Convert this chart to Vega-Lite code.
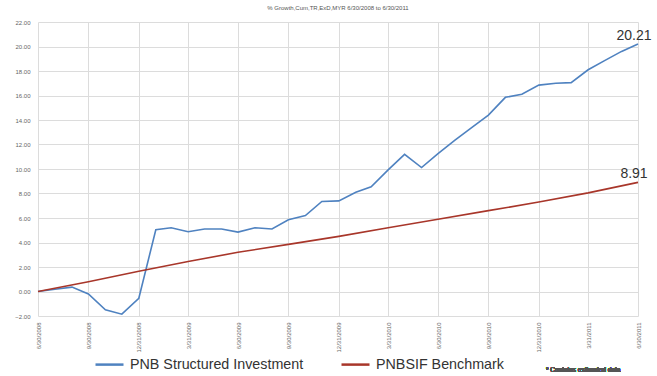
{
  "$schema": "https://vega.github.io/schema/vega-lite/v6.json",
  "autosize": {"type": "none"},
  "width": 600,
  "height": 294,
  "padding": {"left": 38, "top": 22, "right": 19, "bottom": 60},
  "background": "white",
  "title": {"text": "% Growth,Cum,TR,ExD,MYR 6/30/2008 to 6/30/2011", "fontSize": 6, "fontWeight": "normal", "color": "#555555", "font": "Liberation Sans", "offset": 8},
  "config": {
    "font": "Liberation Sans",
    "view": {"stroke": null},
    "axis": {"gridColor": "#dcdcdc", "gridWidth": 1, "ticks": false, "domain": false, "labelColor": "#666666", "labelFontSize": 6, "titleFontSize": 0}
  },
  "data": {"values": [
    {"date": "2008-06-30", "series": "PNB Structured Investment", "value": 0},
    {"date": "2008-07-31", "series": "PNB Structured Investment", "value": 0.18},
    {"date": "2008-08-31", "series": "PNB Structured Investment", "value": 0.36},
    {"date": "2008-09-30", "series": "PNB Structured Investment", "value": -0.2},
    {"date": "2008-10-31", "series": "PNB Structured Investment", "value": -1.5},
    {"date": "2008-11-30", "series": "PNB Structured Investment", "value": -1.85},
    {"date": "2008-12-31", "series": "PNB Structured Investment", "value": -0.55},
    {"date": "2009-01-31", "series": "PNB Structured Investment", "value": 5.04},
    {"date": "2009-02-28", "series": "PNB Structured Investment", "value": 5.2},
    {"date": "2009-03-31", "series": "PNB Structured Investment", "value": 4.88},
    {"date": "2009-04-30", "series": "PNB Structured Investment", "value": 5.1},
    {"date": "2009-05-31", "series": "PNB Structured Investment", "value": 5.1},
    {"date": "2009-06-30", "series": "PNB Structured Investment", "value": 4.85},
    {"date": "2009-07-31", "series": "PNB Structured Investment", "value": 5.2},
    {"date": "2009-08-31", "series": "PNB Structured Investment", "value": 5.1},
    {"date": "2009-09-30", "series": "PNB Structured Investment", "value": 5.85},
    {"date": "2009-10-31", "series": "PNB Structured Investment", "value": 6.2},
    {"date": "2009-11-30", "series": "PNB Structured Investment", "value": 7.35},
    {"date": "2009-12-31", "series": "PNB Structured Investment", "value": 7.4},
    {"date": "2010-01-31", "series": "PNB Structured Investment", "value": 8.1},
    {"date": "2010-02-28", "series": "PNB Structured Investment", "value": 8.55},
    {"date": "2010-03-31", "series": "PNB Structured Investment", "value": 9.93},
    {"date": "2010-04-30", "series": "PNB Structured Investment", "value": 11.2},
    {"date": "2010-05-31", "series": "PNB Structured Investment", "value": 10.12},
    {"date": "2010-06-30", "series": "PNB Structured Investment", "value": 11.25},
    {"date": "2010-07-31", "series": "PNB Structured Investment", "value": 12.35},
    {"date": "2010-08-31", "series": "PNB Structured Investment", "value": 13.4},
    {"date": "2010-09-30", "series": "PNB Structured Investment", "value": 14.4},
    {"date": "2010-10-31", "series": "PNB Structured Investment", "value": 15.85},
    {"date": "2010-11-30", "series": "PNB Structured Investment", "value": 16.1},
    {"date": "2010-12-31", "series": "PNB Structured Investment", "value": 16.85},
    {"date": "2011-01-31", "series": "PNB Structured Investment", "value": 17.0},
    {"date": "2011-02-28", "series": "PNB Structured Investment", "value": 17.05},
    {"date": "2011-03-31", "series": "PNB Structured Investment", "value": 18.1},
    {"date": "2011-04-30", "series": "PNB Structured Investment", "value": 18.85},
    {"date": "2011-05-31", "series": "PNB Structured Investment", "value": 19.6},
    {"date": "2011-06-30", "series": "PNB Structured Investment", "value": 20.21, "label": "20.21"},
    {"date": "2008-06-30", "series": "PNBSIF Benchmark", "value": 0},
    {"date": "2008-09-30", "series": "PNBSIF Benchmark", "value": 0.8},
    {"date": "2008-12-31", "series": "PNBSIF Benchmark", "value": 1.65},
    {"date": "2009-03-31", "series": "PNBSIF Benchmark", "value": 2.45},
    {"date": "2009-06-30", "series": "PNBSIF Benchmark", "value": 3.2},
    {"date": "2009-09-30", "series": "PNBSIF Benchmark", "value": 3.85},
    {"date": "2009-12-31", "series": "PNBSIF Benchmark", "value": 4.5},
    {"date": "2010-03-31", "series": "PNBSIF Benchmark", "value": 5.2},
    {"date": "2010-06-30", "series": "PNBSIF Benchmark", "value": 5.9},
    {"date": "2010-09-30", "series": "PNBSIF Benchmark", "value": 6.6},
    {"date": "2010-12-31", "series": "PNBSIF Benchmark", "value": 7.3},
    {"date": "2011-03-31", "series": "PNBSIF Benchmark", "value": 8.05},
    {"date": "2011-06-30", "series": "PNBSIF Benchmark", "value": 8.91, "label": "8.91"}
  ]},
  "encoding": {
    "x": {
      "field": "date", "type": "temporal",
      "scale": {"type": "utc", "domain": [{"year": 2008, "month": 6, "date": 30, "utc": true}, {"year": 2011, "month": 6, "date": 30, "utc": true}], "nice": false},
      "axis": {
        "title": null, "labelAngle": -90, "labelPadding": 6, "format": "%-m/%-d/%Y",
        "values": [
          {"year": 2008, "month": 6, "date": 30, "utc": true},
          {"year": 2008, "month": 9, "date": 30, "utc": true},
          {"year": 2008, "month": 12, "date": 31, "utc": true},
          {"year": 2009, "month": 3, "date": 31, "utc": true},
          {"year": 2009, "month": 6, "date": 30, "utc": true},
          {"year": 2009, "month": 9, "date": 30, "utc": true},
          {"year": 2009, "month": 12, "date": 31, "utc": true},
          {"year": 2010, "month": 3, "date": 31, "utc": true},
          {"year": 2010, "month": 6, "date": 30, "utc": true},
          {"year": 2010, "month": 9, "date": 30, "utc": true},
          {"year": 2010, "month": 12, "date": 31, "utc": true},
          {"year": 2011, "month": 3, "date": 31, "utc": true},
          {"year": 2011, "month": 6, "date": 30, "utc": true}
        ]
      }
    },
    "y": {
      "field": "value", "type": "quantitative",
      "scale": {"domain": [-2, 22], "nice": false, "zero": false},
      "axis": {"title": null, "format": ".2f", "values": [-2, 0, 2, 4, 6, 8, 10, 12, 14, 16, 18, 20, 22], "labelPadding": 8}
    }
  },
  "layer": [
    {
      "mark": {"type": "line", "strokeWidth": 1.6},
      "encoding": {
        "color": {
          "field": "series", "type": "nominal",
          "scale": {"domain": ["PNB Structured Investment", "PNBSIF Benchmark"], "range": ["#4f82c0", "#a8362a"]},
          "legend": {
            "title": null, "orient": "none", "legendX": 56, "legendY": 327, "direction": "horizontal",
            "symbolType": "stroke", "symbolSize": 784, "symbolStrokeWidth": 2.5,
            "labelFontSize": 14.3, "labelColor": "#333333", "labelOffset": 5, "labelLimit": 0, "columnPadding": 32, "padding": 0
          }
        }
      }
    },
    {
      "transform": [{"filter": "isValid(datum.label)"}],
      "mark": {"type": "text", "fontSize": 14, "color": "#333333", "align": "center", "baseline": "bottom", "dx": -4, "dy": -1},
      "encoding": {"text": {"field": "label"}}
    },
    {
      "mark": {"type": "text", "fontSize": 6.5, "color": "#555555", "align": "center", "baseline": "middle"},
      "encoding": {
        "x": {"datum": {"year": 2011, "month": 3, "date": 22, "utc": true}, "type": "temporal"},
        "y": {"datum": -6.4, "type": "quantitative"},
        "text": {"value": "* Contains estimated data"}
      }
    }
  ]
}
